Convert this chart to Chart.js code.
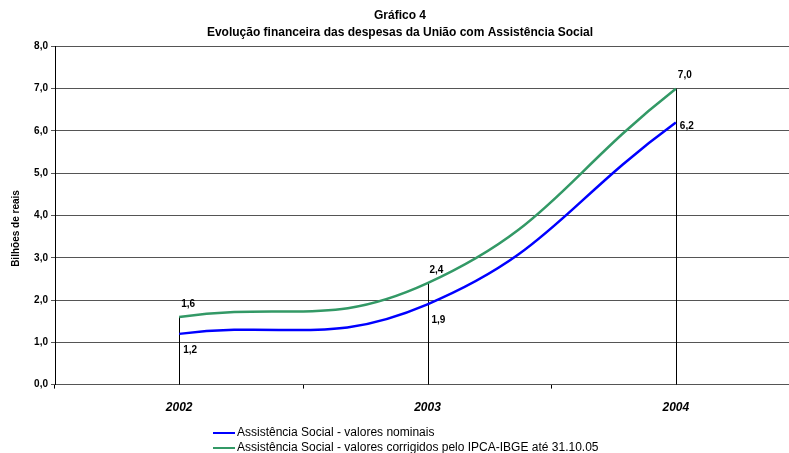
<!DOCTYPE html>
<html>
<head>
<meta charset="utf-8">
<script src="https://cdn.jsdelivr.net/npm/chart.js@4.4.1/dist/chart.umd.min.js"></script>
<style>
  html, body { margin:0; padding:0; background:#fff; overflow:hidden; }
  #wrap { position:relative; width:789px; height:453px; overflow:hidden; }
  #box { position:absolute; left:0; top:0; width:810px; height:453px; }
  #legend { position:absolute; left:213px; top:425px; font-family:"Liberation Sans", Arial, sans-serif; font-size:12px; color:#000; line-height:15px; }
  .li { display:flex; align-items:center; white-space:nowrap; }
  .sw { display:inline-block; width:22px; height:2px; margin-right:2px; }
</style>
</head>
<body>
<div id="wrap">
  <div id="box"><canvas id="c" width="810" height="453"></canvas></div>
  <div id="legend"></div>
</div>
<script>
const categories = ['2002', '2003', '2004'];
const nominais = [1.2, 1.9, 6.2];
const corrigidos = [1.6, 2.4, 7.0];
const seriesNames = ['Assistência Social - valores nominais', 'Assistência Social - valores corrigidos pelo IPCA-IBGE até 31.10.05'];
const yTicks = [0, 1, 2, 3, 4, 5, 6, 7, 8];
const titleLines = ['Gráfico 4', 'Evolução financeira das despesas da União com Assistência Social'];
const yTitle = 'Bilhões de reais';
const colors = ['#0000FF', '#339966'];

const FONT = '"Liberation Sans", Arial, sans-serif';
const fmt = v => v.toFixed(1).replace('.', ',');

// legend (HTML)
const leg = document.getElementById('legend');
seriesNames.forEach((n, i) => {
  const d = document.createElement('div'); d.className = 'li';
  const s = document.createElement('span'); s.className = 'sw'; s.style.background = colors[i];
  d.appendChild(s); d.appendChild(document.createTextNode(n)); leg.appendChild(d);
});

const dropLines = {
  id: 'dropLines',
  beforeDatasetsDraw(chart) {
    const {ctx, scales: {x, y}} = chart;
    ctx.save();
    ctx.strokeStyle = '#000'; ctx.lineWidth = 1;
    categories.forEach((c, i) => {
      const top = Math.max(nominais[i], corrigidos[i]);
      const px = Math.round(x.getPixelForValue(i)) + 0.5;
      ctx.beginPath();
      ctx.moveTo(px, y.getPixelForValue(top));
      ctx.lineTo(px, y.getPixelForValue(0));
      ctx.stroke();
    });
    ctx.restore();
  }
};

const pointLabels = {
  id: 'pointLabels',
  afterDatasetsDraw(chart) {
    const {ctx, scales: {x, y}} = chart;
    ctx.save();
    ctx.font = 'bold 10px ' + FONT;
    ctx.fillStyle = '#000';
    ctx.textAlign = 'left';
    ctx.textBaseline = 'middle';
    categories.forEach((c, i) => {
      const px = x.getPixelForValue(i);
      ctx.fillText(fmt(corrigidos[i]), px + 2, y.getPixelForValue(corrigidos[i]) - 13);
      const last = i === categories.length - 1;
      ctx.fillText(fmt(nominais[i]), px + 4, y.getPixelForValue(nominais[i]) + (last ? 4 : 16));
    });
    ctx.restore();
  }
};

const yTitlePlugin = {
  id: 'yTitlePlugin',
  afterDraw(chart) {
    const {ctx, chartArea} = chart;
    ctx.save();
    ctx.font = 'bold 10px ' + FONT;
    ctx.fillStyle = '#000';
    ctx.textAlign = 'center';
    ctx.textBaseline = 'middle';
    ctx.translate(16, (chartArea.top + chartArea.bottom) / 2 + 13);
    ctx.rotate(-Math.PI / 2);
    ctx.fillText(yTitle, 0, 0);
    ctx.restore();
  }
};

new Chart(document.getElementById('c'), {
  type: 'line',
  data: {
    labels: categories,
    datasets: [
      { label: seriesNames[0], data: nominais, borderColor: colors[0], borderWidth: 2.5, pointRadius: 0, tension: 0.45, fill: false },
      { label: seriesNames[1], data: corrigidos, borderColor: colors[1], borderWidth: 2.5, pointRadius: 0, tension: 0.45, fill: false }
    ]
  },
  options: {
    responsive: false,
    animation: false,
    devicePixelRatio: 1,
    layout: { padding: { left: 0, right: 10, top: 0, bottom: 26 } },
    plugins: {
      legend: { display: false },
      tooltip: { enabled: false },
      title: {
        display: true, text: titleLines, color: '#000',
        font: { family: FONT, size: 12, weight: 'bold', lineHeight: 1.35 },
        padding: { top: 8, bottom: 6 }
      }
    },
    scales: {
      x: {
        offset: true,
        grid: { offset: true, drawOnChartArea: false, drawTicks: true, tickLength: 4, color: '#000' },
        border: { color: '#555', width: 1 },
        ticks: { color: '#000', font: { family: FONT, size: 12, weight: 'bold', style: 'italic' }, padding: 12 }
      },
      y: {
        min: 0, max: 8,
        afterBuildTicks(s) { s.ticks = yTicks.map(v => ({ value: v })); },
        afterFit(s) { s.width = 55; },
        grid: { color: '#555', lineWidth: 1, tickLength: 4, drawTicks: true },
        border: { color: '#000', width: 1 },
        ticks: { color: '#000', font: { family: FONT, size: 10, weight: 'bold' }, padding: 3, callback: v => fmt(v) },
        title: { display: false }
      }
    }
  },
  plugins: [dropLines, pointLabels, yTitlePlugin]
});
</script>
</body>
</html>
